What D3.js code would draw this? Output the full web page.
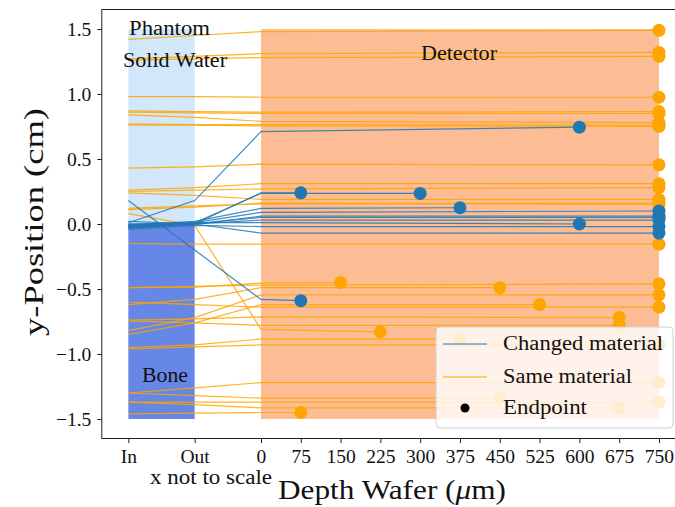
<!DOCTYPE html>
<html><head><meta charset="utf-8">
<script src="https://cdn.jsdelivr.net/npm/d3@7"></script>
<style>body{margin:0;background:#fff}svg{display:block}text{font-family:"Liberation Serif","DejaVu Serif",serif;fill:#111}</style>
</head><body><svg id="c" width="675" height="507"></svg>
<script>
// ---- data ----
const xTickValues = [-250, -125, 0, 75, 150, 225, 300, 375, 450, 525, 600, 675, 750];
const xTickLabels = ["In", "Out", "0", "75", "150", "225", "300", "375", "450", "525", "600", "675", "750"];
const yTickValues = [-1.5, -1.0, -0.5, 0.0, 0.5, 1.0, 1.5];
const yTickLabels = ["\u22121.5", "\u22121.0", "\u22120.5", "0.0", "0.5", "1.0", "1.5"];
const pathX = [-250, -125, 0]; // In, Out, detector entry

// Changed material tracks
const changedIn    = [0.01, 0.18, -0.02, 0.00, -0.01, -0.03, 0.02, -0.02, -0.04, 0.00, -0.01, -0.03];
const changedOut   = [0.18, -0.20, 0.00, 0.01, 0.02, 0.00, 0.00, 0.01, -0.01, 0.00, 0.00, 0.01];
const changedEntry = [0.71, -0.58, 0.24, 0.235, 0.12, 0.06, 0.03, 0.01, -0.02, -0.07, 0.05, 0.09];
const changedEndX  = [600, 75, 75, 300, 375, 750, 750, 600, 750, 750, 750, 750];
const changedEndY  = [0.745, -0.59, 0.24, 0.235, 0.125, 0.06, 0.03, 0.00, -0.02, -0.07, 0.05, 0.10];

// Same material tracks
const sameIn    = [1.42, 1.27, 1.26, 0.98, 0.87, 0.86, 0.84, 0.77, 0.76, 0.43, 0.26, 0.25, 0.24, 0.11, 0.12, 0.08, -0.15,
                   -0.49, -0.49, -0.62, -0.82, -0.85, -0.60, -0.74, -0.745, -0.95, -0.96, -1.30, -1.30, -1.37, -1.37, -1.46];
const sameOut   = [1.45, 1.29, 1.27, 0.98, 0.865, 0.855, 0.82, 0.765, 0.76, 0.44, 0.28, 0.26, 0.22, 0.13, 0.14, -0.01, -0.155,
                   -0.485, -0.48, -0.58, -0.72, -0.76, -0.62, -0.73, -0.76, -0.93, -0.945, -1.26, -1.32, -1.37, -1.39, -1.455];
const sameEntry = [1.48, 1.31, 1.28, 0.975, 0.86, 0.85, 0.79, 0.765, 0.755, 0.46, 0.31, 0.27, 0.19, 0.16, 0.155, -0.81, -0.155,
                   -0.455, -0.47, -0.49, -0.545, -0.62, -0.64, -0.715, -0.78, -0.885, -0.93, -1.22, -1.34, -1.37, -1.415, -1.45];
const sameEndX  = [750, 750, 750, 750, 750, 750, 750, 750, 750, 750, 750, 750, 750, 750, 750, 225, 750,
                   150, 750, 450, 750, 525, 750, 675, 675, 375, 750, 750, 450, 750, 675, 75];
const sameEndY  = [1.49, 1.32, 1.29, 0.975, 0.865, 0.85, 0.78, 0.76, 0.75, 0.455, 0.31, 0.28, 0.19, 0.15, 0.16, -0.83, -0.155,
                   -0.45, -0.46, -0.49, -0.545, -0.62, -0.64, -0.72, -0.78, -0.885, -0.93, -1.22, -1.34, -1.37, -1.415, -1.45];

// regions
const regionNames = ["Solid Water", "Bone", "Detector"];
const regionX0 = [-250, -250, 0];
const regionX1 = [-125, -125, 750];
const regionY0 = [0, -1.5, -1.5];
const regionY1 = [1.5, 0, 1.5];
const legendLabels = ["Changed material", "Same material", "Endpoint"];

// ---- chart ----
const svg = d3.select("#c");
const x = d3.scaleLinear().domain([-300, 800]).range([101.8, 685.5]);
const y = d3.scaleLinear().domain([-1.65, 1.65]).range([438.5, 9.5]);
const blue = "#1f77b4", orange = "#ffa500";
const regionFill = ["#d2e7fa", "#6787e6", "#fcbd94"];

const g = svg.append("g");
regionNames.forEach((n, i) => {
  g.append("rect")
    .attr("x", x(regionX0[i])).attr("y", y(regionY1[i]))
    .attr("width", x(regionX1[i]) - x(regionX0[i]))
    .attr("height", y(regionY0[i]) - y(regionY1[i]))
    .attr("fill", regionFill[i]);
});

const line = d3.line().x(d => x(d[0])).y(d => y(d[1]));
function tracks(inA, outA, entA, exA, eyA) {
  return inA.map((v, i) => [[pathX[0], v], [pathX[1], outA[i]], [pathX[2], entA[i]], [exA[i], eyA[i]]]);
}
const sameTracks = tracks(sameIn, sameOut, sameEntry, sameEndX, sameEndY);
const changedTracks = tracks(changedIn, changedOut, changedEntry, changedEndX, changedEndY);

g.selectAll("path.same").data(sameTracks).join("path")
  .attr("d", line).attr("fill", "none").attr("stroke", orange)
  .attr("stroke-width", 1.2).attr("stroke-opacity", 0.85);
g.selectAll("path.changed").data(changedTracks).join("path")
  .attr("d", line).attr("fill", "none").attr("stroke", blue)
  .attr("stroke-width", 1.2).attr("stroke-opacity", 0.85);

g.selectAll("circle.same").data(sameEndX).join("circle")
  .attr("cx", (d) => x(d)).attr("cy", (d, i) => y(sameEndY[i])).attr("r", 6.5).attr("fill", orange);
g.selectAll("circle.changed").data(changedEndX).join("circle")
  .attr("cx", (d) => x(d)).attr("cy", (d, i) => y(changedEndY[i])).attr("r", 6.5).attr("fill", blue);

function label(sel, xx, yy, size, txt, len) {
  const t = sel.append("text").attr("x", xx).attr("y", yy).attr("font-size", size).text(txt);
  if (len) t.attr("textLength", len).attr("lengthAdjust", "spacingAndGlyphs");
  return t;
}
// region labels
label(svg, 129, 35, 20, "Phantom", 81);
label(svg, 123, 67, 20, regionNames[0], 104);
label(svg, 142, 382, 20, regionNames[1], 46);
label(svg, 421, 60, 20, regionNames[2], 76);

// axes
const xAxis = d3.axisBottom(x).tickValues(xTickValues).tickFormat((d, i) => xTickLabels[i]).tickSize(4.5).tickPadding(6);
const yAxis = d3.axisLeft(y).tickValues(yTickValues).tickFormat((d, i) => yTickLabels[i]).tickSize(4.5).tickPadding(6);
const gx = svg.append("g").attr("transform", `translate(0,${y(-1.65)})`).call(xAxis);
const gy = svg.append("g").attr("transform", `translate(${x(-300)},0)`).call(yAxis);
[gx, gy].forEach(a => {
  a.selectAll("text").attr("font-family", "Liberation Serif, serif").attr("font-size", 19.5).attr("fill", "#111");
  a.selectAll("line,path").attr("stroke", "#222").attr("stroke-width", 1);
});
gx.select(".domain").remove();
gy.select(".domain").remove();
// spines
svg.append("rect").attr("x", x(-300)).attr("y", y(1.65)).attr("width", x(800) - x(-300)).attr("height", y(-1.65) - y(1.65))
  .attr("fill", "none").attr("stroke", "#222").attr("stroke-width", 1);

// axis titles
label(svg, 150, 484, 20, "x not to scale", 122);
svg.append("text").attr("x", 278).attr("y", 499).attr("font-size", 28)
  .attr("textLength", 228).attr("lengthAdjust", "spacingAndGlyphs")
  .html('Depth Wafer (<tspan font-style="italic">\u03bc</tspan>m)');
svg.append("text").attr("transform", "translate(43,222) rotate(-90)").attr("text-anchor", "middle").attr("font-size", 28)
  .attr("textLength", 228).attr("lengthAdjust", "spacingAndGlyphs").text("y-Position (cm)");

// legend
const lg = svg.append("g");
lg.append("rect").attr("x", 436).attr("y", 327).attr("width", 237).attr("height", 101).attr("rx", 4)
  .attr("fill", "#fff").attr("fill-opacity", 0.8).attr("stroke", "#d0d0d0");
const lgY = [344, 377, 408];
const lgLen = [160, 129, 84];
lg.append("line").attr("x1", 443).attr("x2", 487).attr("y1", lgY[0]).attr("y2", lgY[0]).attr("stroke", blue).attr("stroke-width", 1.2);
lg.append("line").attr("x1", 443).attr("x2", 487).attr("y1", lgY[1]).attr("y2", lgY[1]).attr("stroke", orange).attr("stroke-width", 1.2);
lg.append("circle").attr("cx", 465).attr("cy", lgY[2]).attr("r", 4.5).attr("fill", "#000");
legendLabels.forEach((t, i) => label(lg, 503, lgY[i] + 6, 20, t, lgLen[i]));
</script></body></html>
